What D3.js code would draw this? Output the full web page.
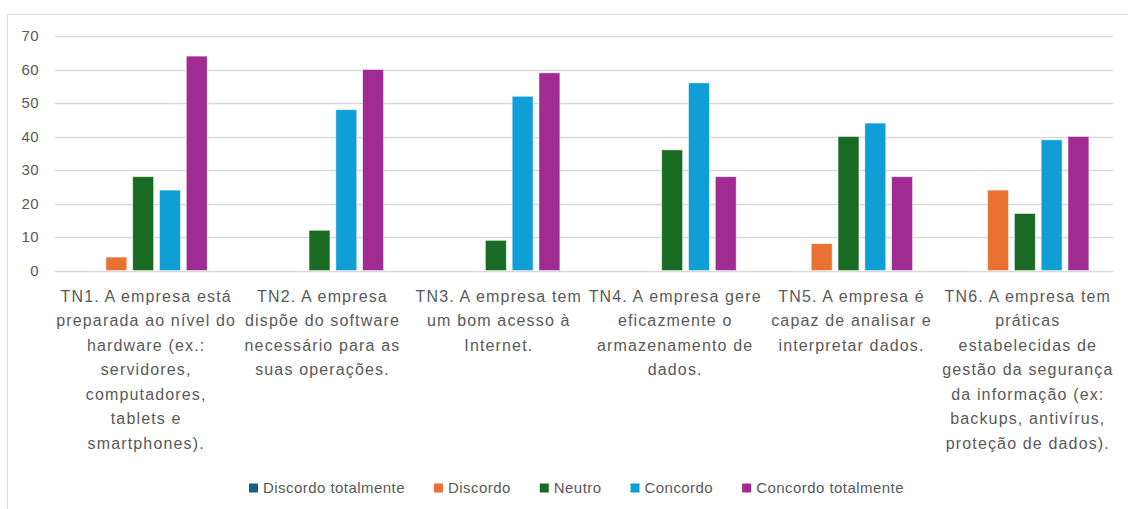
<!DOCTYPE html>
<html>
<head>
<meta charset="utf-8">
<script src="https://cdn.jsdelivr.net/npm/d3@7"></script>
<style>
  html, body { margin: 0; padding: 0; background: #fff; }
  svg { display: block; }
  .cat { font-family: "Liberation Sans", Arial, sans-serif; font-size: 16px; fill: #595959; letter-spacing: 1.15px; }
  .ytick { font-family: "Liberation Sans", Arial, sans-serif; font-size: 15px; fill: #595959; letter-spacing: 0.4px; }
  .leg { font-family: "Liberation Sans", Arial, sans-serif; font-size: 15px; fill: #595959; letter-spacing: 0.45px; }
</style>
</head>
<body>
<svg id="chart" width="1128" height="509"></svg>
<script>
// Response counts per statement (TN1–TN6) and answer level
const categories = ["TN1", "TN2", "TN3", "TN4", "TN5", "TN6"];
const categoryLines = [
  ["TN1. A empresa está", "preparada ao nível do", "hardware (ex.:", "servidores,", "computadores,", "tablets e", "smartphones)."],
  ["TN2. A empresa", "dispõe do software", "necessário para as", "suas operações."],
  ["TN3. A empresa tem", "um bom acesso à", "Internet."],
  ["TN4. A empresa gere", "eficazmente o", "armazenamento de", "dados."],
  ["TN5. A empresa é", "capaz de analisar e", "interpretar dados."],
  ["TN6. A empresa tem", "práticas", "estabelecidas de", "gestão da segurança", "da informação (ex:", "backups, antivírus,", "proteção de dados)."]
];
const seriesNames = ["Discordo totalmente", "Discordo", "Neutro", "Concordo", "Concordo totalmente"];
const discordoTotalmente = [0, 0, 0, 0, 0, 0];
const discordo           = [4, 0, 0, 0, 8, 24];
const neutro             = [28, 12, 9, 36, 40, 17];
const concordo           = [24, 48, 52, 56, 44, 39];
const concordoTotalmente = [64, 60, 59, 28, 28, 40];
const seriesValues = [discordoTotalmente, discordo, neutro, concordo, concordoTotalmente];
const seriesColors = ["#156082", "#E97132", "#196B24", "#0F9ED5", "#A02B93"];
const yTicks = [0, 10, 20, 30, 40, 50, 60, 70];

const svg = d3.select("#chart");

// outer chart frame (top and left edges)
svg.append("path")
  .attr("d", "M7.5,509 V14.5 H1128")
  .attr("fill", "none").attr("stroke", "#d9d9d9").attr("stroke-width", 1);

const plot = { left: 55, right: 1113, top: 36, bottom: 270.5 };

const y = d3.scaleLinear().domain([0, 70]).range([plot.bottom, plot.top]);
const x0 = d3.scaleBand().domain(categories).range([plot.left, plot.right]).padding(0);
const x1 = d3.scaleBand().domain(seriesNames)
  .range([0, x0.bandwidth()]).paddingInner(0.22).paddingOuter(0.9);

// gridlines
svg.append("g").selectAll("line").data(yTicks).join("line")
  .attr("x1", plot.left).attr("x2", plot.right)
  .attr("y1", d => Math.round(y(d)) + 0.5).attr("y2", d => Math.round(y(d)) + 0.5)
  .attr("stroke", "#d9d9d9").attr("stroke-width", 1.3);

// y tick labels
svg.append("g").selectAll("text").data(yTicks).join("text")
  .attr("class", "ytick")
  .attr("x", 39).attr("y", d => y(d)).attr("dy", "0.35em")
  .attr("text-anchor", "end")
  .text(d => d);

// bars
const rows = [];
categories.forEach((c, i) => {
  seriesNames.forEach((s, j) => {
    rows.push({ cat: c, series: s, value: seriesValues[j][i], color: seriesColors[j] });
  });
});
svg.append("g").selectAll("rect").data(rows.filter(d => d.value > 0)).join("rect")
  .attr("x", d => x0(d.cat) + x1(d.series))
  .attr("width", x1.bandwidth())
  .attr("y", d => y(d.value))
  .attr("height", d => y(0) - y(d.value))
  .attr("fill", d => d.color)
  .attr("stroke", "#ffffff").attr("stroke-opacity", 0.6).attr("stroke-width", 0.8);

// category labels (multi-line, centred under each group)
const labelX = d => x0(d) + x0.bandwidth() / 2 + 3;
const catG = svg.append("g").selectAll("text").data(categories).join("text")
  .attr("class", "cat")
  .attr("text-anchor", "middle")
  .attr("x", labelX)
  .attr("y", 301.5);
catG.each(function(d, i) {
  const t = d3.select(this);
  categoryLines[i].forEach((line, k) => {
    t.append("tspan")
      .attr("x", labelX(d))
      .attr("dy", k === 0 ? 0 : 24.5)
      .text(line);
  });
});

// legend: items laid out left to right, centred as a row
const swatch = 9, swatchGap = 5, itemGap = 29, legendCenter = 576.5, legendY = 488;
const legend = svg.append("g");
const items = legend.selectAll("g").data(seriesNames).join("g");
items.append("rect")
  .attr("x", 0).attr("y", legendY - swatch / 2).attr("width", swatch).attr("height", swatch)
  .attr("fill", (d, i) => seriesColors[i]);
items.append("text")
  .attr("class", "leg")
  .attr("x", swatch + swatchGap).attr("y", legendY).attr("dy", "0.35em")
  .text(d => d);
const widths = [];
items.each(function() {
  widths.push(swatch + swatchGap + d3.select(this).select("text").node().getComputedTextLength());
});
const total = d3.sum(widths) + itemGap * (widths.length - 1);
let cursor = legendCenter - total / 2;
items.attr("transform", (d, i) => {
  const tx = cursor;
  cursor += widths[i] + itemGap;
  return `translate(${tx},0)`;
});
</script>
</body>
</html>
